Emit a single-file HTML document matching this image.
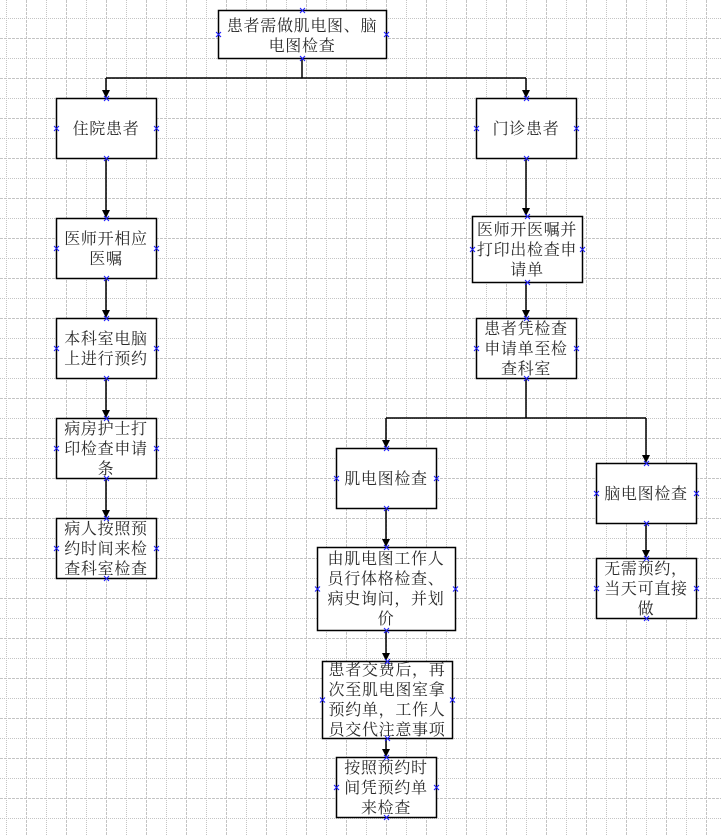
<!DOCTYPE html>
<html><head><meta charset="utf-8"><style>
html,body{margin:0;padding:0;background:#fff;}
svg{display:block;}
text{font-family:"Liberation Serif","Noto Serif CJK SC","Noto Sans CJK SC",serif;font-size:16px;fill:#2a2a2a;letter-spacing:0.7px;}
</style></head><body>
<svg width="721" height="836" viewBox="0 0 721 836" xmlns="http://www.w3.org/2000/svg">
<rect width="721" height="836" fill="#fff"/>
<g id="grid" stroke="#c4c4c4" stroke-width="1" fill="none"></g>
<g stroke="#000" stroke-width="1.5" fill="none">
<!-- top connectors -->
<path d="M302 58 V78 M106 78 H526 M106 78 V92 M526 78 V92"/>
<path d="M106 158 V212 M106 278 V312 M106 378 V412 M106 478 V512"/>
<path d="M526 158 V210 M526 282 V312"/>
<path d="M526 378 V418 M386 418 H646 M386 418 V442 M646 418 V457"/>
<path d="M386 508 V541 M386 630 V655 M386 738 V751"/>
<path d="M646 523 V552"/>
</g>
<g fill="#000">
<path d="M102 90 L110 90 L106 98 Z"/>
<path d="M522 90 L530 90 L526 98 Z"/>
<path d="M102 210 L110 210 L106 218 Z"/>
<path d="M102 310 L110 310 L106 318 Z"/>
<path d="M102 410 L110 410 L106 418 Z"/>
<path d="M102 510 L110 510 L106 518 Z"/>
<path d="M522 208 L530 208 L526 216 Z"/>
<path d="M522 310 L530 310 L526 318 Z"/>
<path d="M382 440 L390 440 L386 448 Z"/>
<path d="M642 455 L650 455 L646 463 Z"/>
<path d="M382 539 L390 539 L386 547 Z"/>
<path d="M382 653 L390 653 L386 661 Z"/>
<path d="M382 749 L390 749 L386 757 Z"/>
<path d="M642 550 L650 550 L646 558 Z"/>
</g>
<g stroke="#000" stroke-width="1.5" fill="#fff">
<rect x="218.5" y="10.5" width="168" height="48"/>
<rect x="56.5" y="98.5" width="100" height="60"/>
<rect x="476.5" y="98.5" width="100" height="60"/>
<rect x="56.5" y="218.5" width="100" height="60"/>
<rect x="56.5" y="318.5" width="100" height="60"/>
<rect x="56.5" y="418.5" width="100" height="60"/>
<rect x="56.5" y="518.5" width="100" height="60"/>
<rect x="472.5" y="216.5" width="110" height="66"/>
<rect x="476.5" y="318.5" width="100" height="60"/>
<rect x="336.5" y="448.5" width="100" height="60"/>
<rect x="596.5" y="463.5" width="100" height="60"/>
<rect x="317.5" y="547.5" width="138" height="83"/>
<rect x="596.5" y="558.5" width="100" height="60"/>
<rect x="322.5" y="661.5" width="130" height="77"/>
<rect x="336.5" y="757.5" width="100" height="60"/>
</g>
<g text-anchor="middle">
<text x="302" y="31">患者需做肌电图、脑</text>
<text x="302" y="51">电图检查</text>
<text x="106" y="134">住院患者</text>
<text x="526" y="134">门诊患者</text>
<text x="106" y="244">医师开相应</text>
<text x="106" y="264">医嘱</text>
<text x="106" y="344">本科室电脑</text>
<text x="106" y="364">上进行预约</text>
<text x="106" y="434">病房护士打</text>
<text x="106" y="454">印检查申请</text>
<text x="106" y="474">条</text>
<text x="106" y="534">病人按照预</text>
<text x="106" y="554">约时间来检</text>
<text x="106" y="574">查科室检查</text>
<text x="527" y="235">医师开医嘱并</text>
<text x="527" y="255">打印出检查申</text>
<text x="527" y="275">请单</text>
<text x="526" y="334">患者凭检查</text>
<text x="526" y="354">申请单至检</text>
<text x="526" y="374">查科室</text>
<text x="386" y="484">肌电图检查</text>
<text x="646" y="499">脑电图检查</text>
<text x="386" y="564">由肌电图工作人</text>
<text x="386" y="584">员行体格检查、</text>
<text x="386" y="604">病史询问，并划</text>
<text x="386" y="624">价</text>
<text x="646" y="574">无需预约，</text>
<text x="646" y="594">当天可直接</text>
<text x="646" y="614">做</text>
<text x="387" y="675">患者交费后，再</text>
<text x="387" y="695">次至肌电图室拿</text>
<text x="387" y="715">预约单，工作人</text>
<text x="387" y="735">员交代注意事项</text>
<text x="386" y="773">按照预约时</text>
<text x="386" y="793">间凭预约单</text>
<text x="386" y="813">来检查</text>
</g>
<g id="marks" stroke="#1a1aff" stroke-width="1" fill="none"></g>
<script>
(function(){
var ns="http://www.w3.org/2000/svg";
var g=document.getElementById("grid");
var i,l;
for(i=0;6+20*i<721;i++){var x=6.5+20*i;l=document.createElementNS(ns,"line");l.setAttribute("x1",x);l.setAttribute("x2",x);l.setAttribute("y1",0);l.setAttribute("y2",836);l.setAttribute("stroke-dasharray",i%2?"3,1":"1,1");g.appendChild(l);}
for(i=0;18+20*i<836;i++){var y=18.5+20*i;l=document.createElementNS(ns,"line");l.setAttribute("y1",y);l.setAttribute("y2",y);l.setAttribute("x1",0);l.setAttribute("x2",721);l.setAttribute("stroke-dasharray",i%2?"3,1":"1,1");g.appendChild(l);}
var boxes=[[218,10,168,48],[56,98,100,60],[476,98,100,60],[56,218,100,60],[56,318,100,60],[56,418,100,60],[56,518,100,60],[472,216,110,66],[476,318,100,60],[336,448,100,60],[596,463,100,60],[317,547,138,83],[596,558,100,60],[322,661,130,77],[336,757,100,60]];
var m=document.getElementById("marks");
function mk(cx,cy){var p=document.createElementNS(ns,"path");p.setAttribute("d","M"+(cx-2.5)+" "+(cy-2.5)+"L"+(cx+2.5)+" "+(cy+2.5)+"M"+(cx+2.5)+" "+(cy-2.5)+"L"+(cx-2.5)+" "+(cy+2.5));m.appendChild(p);}
boxes.forEach(function(b){var cx=b[0]+b[2]/2+0.5,cy=b[1]+b[3]/2+0.5;mk(cx,b[1]+0.5);mk(cx,b[1]+b[3]+0.5);mk(b[0]+0.5,cy);mk(b[0]+b[2]+0.5,cy);});
})();
</script>
</svg>
</body></html>
